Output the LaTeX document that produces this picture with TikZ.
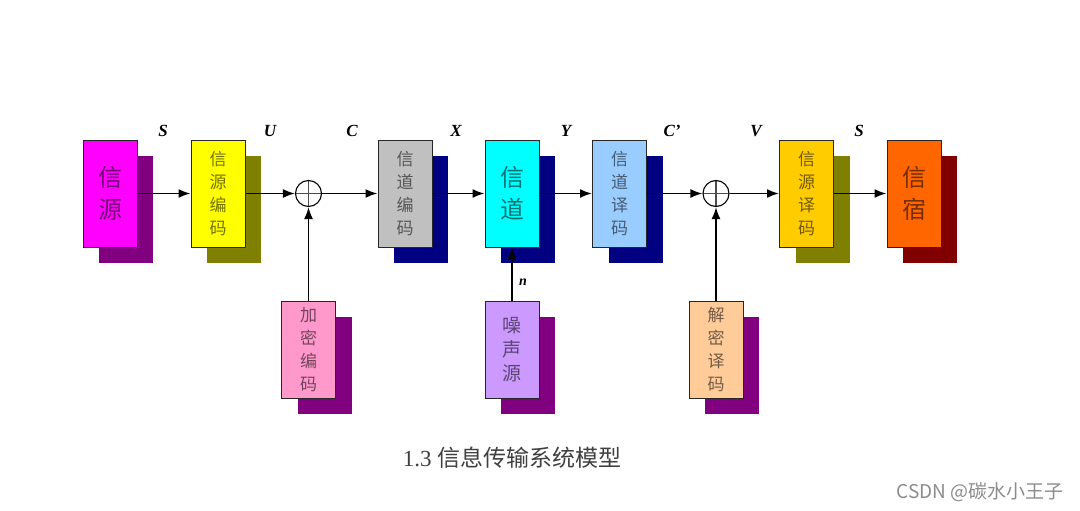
\documentclass[tikz,border=0pt]{standalone}
\usepackage{fontspec}
\setmainfont{Liberation Serif}
\newfontfamily\cjk{Noto Sans CJK SC}
\usetikzlibrary{arrows.meta}

\definecolor{cSrc}{HTML}{FF00FF}
\definecolor{cSrcEnc}{HTML}{FFFF00}
\definecolor{cChEnc}{HTML}{C0C0C0}
\definecolor{cChan}{HTML}{00FFFF}
\definecolor{cChDec}{HTML}{99CCFF}
\definecolor{cSrcDec}{HTML}{FFCC00}
\definecolor{cSink}{HTML}{FF6600}
\definecolor{cEnc}{HTML}{FF99CC}
\definecolor{cNoise}{HTML}{CC99FF}
\definecolor{cDec}{HTML}{FFCC99}
\definecolor{shPurple}{HTML}{800080}
\definecolor{shOlive}{HTML}{808000}
\definecolor{shNavy}{HTML}{000080}
\definecolor{shRed}{HTML}{800000}

\tikzset{
  front/.style={draw=black!85,line width=1pt,minimum width=54pt,minimum height=107pt,
    inner sep=0pt,align=center,font=\cjk\fontsize{17}{23}\selectfont,text=black,text opacity=0.55},
  shade/.style={minimum width=54pt,minimum height=107pt,inner sep=0pt},
  tall/.style={},
  big/.style={font=\cjk\fontsize{24}{32}\selectfont},
  low/.style={minimum height=97pt},
  lowmid/.style={minimum height=97pt,font=\cjk\fontsize{19}{24}\selectfont},
  adder/.style={circle,draw,line width=1.1pt,minimum size=26pt,inner sep=0pt,
    path picture={\draw[black!70] (path picture bounding box.north) -- (path picture bounding box.south)
      (path picture bounding box.west) -- (path picture bounding box.east);}},
  sig/.style={font=\bfseries\itshape\fontsize{17}{17}\selectfont},
  link/.style={line width=1.8pt,-{Latex[length=12pt,width=9pt]}}
}

\begin{document}
\begin{tikzpicture}[x=1pt,y=-1pt]
  \useasboundingbox[fill=white] (0,0) rectangle (1080,511);

  % blocks: shadow first, then the front box
  \foreach \nm/\x/\y/\fc/\sc/\sty/\txt in {
      src/110/193.5/cSrc/shPurple/big/{信\\源},
      senc/218/193.5/cSrcEnc/shOlive/tall/{信\\源\\编\\码},
      cenc/405/193.5/cChEnc/shNavy/tall/{信\\道\\编\\码},
      chan/512/193.5/cChan/shNavy/big/{信\\道},
      cdec/619.5/193.5/cChDec/shNavy/tall/{信\\道\\译\\码},
      sdec/806.5/193.5/cSrcDec/shOlive/tall/{信\\源\\译\\码},
      sink/914/193.5/cSink/shRed/big/{信\\宿},
      enc/308.5/349.5/cEnc/shPurple/low/{加\\密\\编\\码},
      noise/512/349.5/cNoise/shPurple/lowmid/{噪\\声\\源},
      dec/716/349.5/cDec/shPurple/low/{解\\密\\译\\码}} {
    \node[shade,\sty,fill=\sc] (\nm-sh) at (\x+16,\y+16) {};
    \node[front,\sty,fill=\fc] (\nm) at (\x,\y) {\txt};
  }

  \node[adder] (add1) at (308.5,193.5) {};
  \node[adder] (add2) at (716,193.5) {};

  % signal path
  \draw[link] (src) -- (senc);
  \draw[link] (senc) -- (add1);
  \draw[link] (add1) -- (cenc);
  \draw[link] (cenc) -- (chan);
  \draw[link] (chan) -- (cdec);
  \draw[link] (cdec) -- (add2);
  \draw[link] (add2) -- (sdec);
  \draw[link] (sdec) -- (sink);
  \draw[link] (enc) -- (add1);
  \draw[link] (noise) -- (chan);
  \draw[link] (dec) -- (add2);

  % signal names
  \foreach \lab/\x in {S/163,U/270,C/352,X/456,Y/566,C’/672,V/756,S/859}
    \node[sig] (lab\x) at (\x,131) {\lab};
  \node[sig,font=\bfseries\itshape\fontsize{14}{14}\selectfont] (nlab) at (523,282) {n};

  \node[text=black!75] (cap) at (512,458) {\fontsize{23}{23}\selectfont 1.3 {\cjk 信息传输系统模型}};
  \node[text=black!45,font=\cjk\fontsize{19}{19}\selectfont] (wm) at (980,492) {CSDN @碳水小王子};
\end{tikzpicture}
\end{document}
